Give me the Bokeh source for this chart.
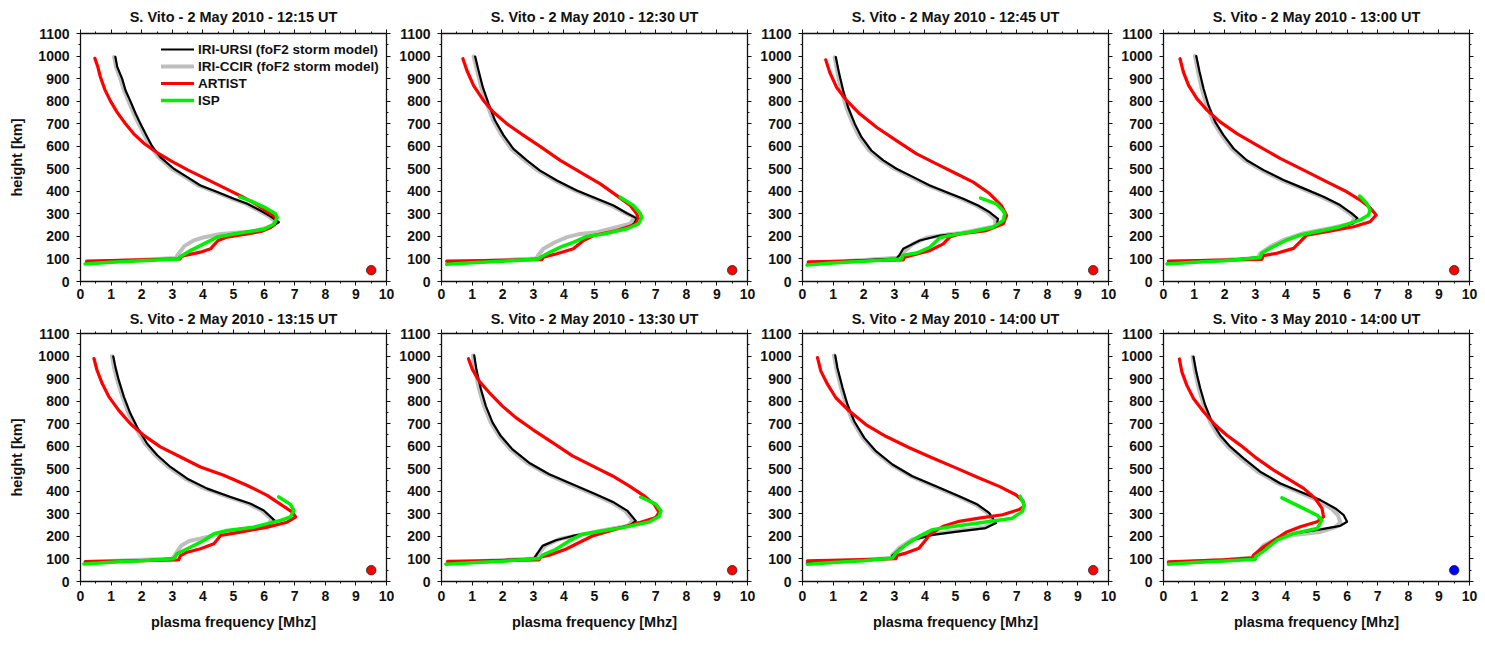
from bokeh.plotting import figure
from bokeh.layouts import gridplot
from bokeh.models import LinearAxis, Range1d, SingleIntervalTicker, Legend, LegendItem
from bokeh.embed import file_html
from bokeh.resources import INLINE

FONT = "Liberation Sans"

titles = [
    "S. Vito - 2 May 2010 - 12:15 UT", "S. Vito - 2 May 2010 - 12:30 UT",
    "S. Vito - 2 May 2010 - 12:45 UT", "S. Vito - 2 May 2010 - 13:00 UT",
    "S. Vito - 2 May 2010 - 13:15 UT", "S. Vito - 2 May 2010 - 13:30 UT",
    "S. Vito - 2 May 2010 - 14:00 UT", "S. Vito - 3 May 2010 - 14:00 UT",
]
series_names = ["IRI-URSI (foF2 storm model)", "IRI-CCIR (foF2 storm model)", "ARTIST", "ISP"]
series_colors = ["#000000", "#bebebe", "#ff0000", "#00ee00"]
marker_freq = [9.5, 9.5, 9.5, 9.5, 9.5, 9.5, 9.5, 9.5]
marker_height = [50, 50, 50, 50, 50, 50, 50, 50]
marker_colors = ["#ff0000"] * 7 + ["#0000ff"]

# (plasma frequency [MHz], height [km]) pairs read from the profiles
ursi_1215 = [(1.14, 996), (1.2, 952), (1.36, 900), (1.47, 848), (1.63, 800), (1.8, 745), (1.96, 700),
             (2.18, 641), (2.34, 600), (2.61, 552), (3.05, 500), (3.49, 463), (3.92, 426), (4.47, 397),
             (5.01, 367), (5.45, 345), (5.88, 315), (6.21, 289), (6.48, 263), (6.32, 250), (6.0, 232),
             (5.01, 211), (4.47, 197), (4.03, 167), (3.59, 137), (3.27, 111), (3.2, 101), (2.0, 93),
             (1.0, 87), (0.2, 82)]
ccir_1215 = [(1.1, 996), (1.16, 952), (1.3, 900), (1.42, 848), (1.57, 800), (1.74, 745), (1.9, 700),
             (2.12, 641), (2.28, 600), (2.55, 552), (2.98, 500), (3.42, 463), (3.85, 426), (4.4, 397),
             (4.95, 367), (5.4, 345), (5.82, 315), (6.15, 289), (6.35, 268), (6.32, 248), (5.66, 223),
             (4.58, 211), (4.0, 195), (3.7, 182), (3.4, 158), (3.16, 115), (3.12, 104), (2.0, 96),
             (1.0, 90), (0.2, 85)]
artist_1215 = [(0.47, 990), (0.57, 950), (0.65, 907), (0.8, 850), (0.98, 800), (1.2, 750), (1.47, 700),
               (1.74, 655), (2.1, 610), (2.5, 572), (3.0, 532), (3.5, 495), (4.1, 455), (4.7, 415),
               (5.3, 375), (5.77, 340), (6.1, 310), (6.32, 290), (6.4, 275), (6.35, 255), (6.2, 238),
               (5.9, 222), (5.45, 211), (4.79, 197), (4.5, 182), (4.35, 160), (4.25, 145), (3.92, 130),
               (3.38, 115), (3.28, 108), (3.25, 100), (2.0, 96), (0.2, 90)]
isp_1215 = [(5.2, 375), (5.6, 355), (6.0, 330), (6.25, 310), (6.37, 300), (6.43, 285), (6.32, 255),
            (6.0, 232), (5.01, 211), (4.47, 197), (4.03, 167), (3.59, 137), (3.27, 111), (3.2, 100),
            (2.0, 92), (1.0, 85), (0.15, 78)]

ursi_1230 = [(1.1, 998), (1.21, 936), (1.35, 862), (1.54, 788), (1.75, 714), (2.03, 648), (2.35, 588),
             (2.79, 537), (3.22, 492), (3.77, 448), (4.42, 404), (5.08, 367), (5.62, 337), (6.06, 303),
             (6.38, 280), (6.3, 258), (6.06, 234), (5.3, 211), (4.75, 200), (4.31, 174), (3.88, 152),
             (3.55, 130), (3.28, 111), (3.17, 102), (2.0, 93), (1.0, 87), (0.2, 82)]
ccir_1230 = [(1.05, 998), (1.16, 936), (1.3, 862), (1.48, 788), (1.69, 714), (1.97, 648), (2.28, 588),
             (2.72, 537), (3.15, 492), (3.7, 448), (4.35, 404), (5.0, 367), (5.55, 337), (6.0, 303),
             (6.3, 285), (6.17, 256), (5.08, 219), (4.53, 211), (4.1, 197), (3.71, 174), (3.33, 145),
             (3.15, 115), (3.1, 102), (2.0, 95), (1.0, 89), (0.2, 84)]
artist_1230 = [(0.7, 988), (0.83, 936), (1.05, 869), (1.37, 803), (1.7, 751), (2.14, 699), (2.68, 648),
               (3.22, 599), (3.88, 537), (4.53, 485), (5.19, 433), (5.73, 381), (6.17, 337), (6.38, 300),
               (6.44, 278), (6.33, 253), (5.73, 226), (4.97, 204), (4.64, 182), (4.31, 145), (3.77, 123),
               (3.33, 108), (3.28, 97), (2.0, 94), (0.17, 90)]
isp_1230 = [(5.84, 374), (6.27, 337), (6.48, 305), (6.55, 285), (6.44, 256), (6.06, 234), (5.3, 211),
            (4.75, 200), (4.31, 174), (3.88, 152), (3.55, 130), (3.28, 111), (3.17, 100), (2.0, 90),
            (1.0, 83), (0.17, 76)]

ursi_1245 = [(1.09, 995), (1.2, 921), (1.33, 847), (1.49, 773), (1.71, 699), (1.93, 640), (2.25, 581),
             (2.64, 537), (3.07, 500), (3.62, 463), (4.16, 426), (4.71, 396), (5.25, 367), (5.74, 337),
             (6.12, 307), (6.39, 278), (6.34, 245), (5.58, 219), (4.49, 204), (3.83, 182), (3.29, 145),
             (3.16, 115), (3.07, 102), (2.0, 95), (1.0, 88), (0.19, 82)]
ccir_1245 = [(1.05, 995), (1.15, 921), (1.27, 847), (1.43, 773), (1.65, 699), (1.86, 640), (2.18, 581),
             (2.57, 537), (3.0, 500), (3.55, 463), (4.09, 426), (4.64, 396), (5.18, 367), (5.67, 337),
             (6.05, 307), (6.3, 275), (6.3, 245), (5.2, 215), (4.7, 208), (4.05, 194), (3.62, 167),
             (3.24, 123), (3.1, 105), (2.0, 95), (1.0, 88), (0.19, 82)]
artist_1245 = [(0.76, 983), (0.89, 928), (1.11, 862), (1.44, 803), (1.87, 744), (2.42, 684), (3.07, 625),
               (3.73, 566), (4.38, 522), (5.03, 478), (5.58, 441), (6.12, 389), (6.5, 337), (6.67, 293),
               (6.56, 256), (6.01, 226), (5.14, 211), (4.81, 197), (4.6, 167), (4.16, 137), (3.62, 118),
               (3.34, 108), (3.29, 96), (2.0, 92), (0.19, 87)]
isp_1245 = [(5.82, 370), (6.34, 344), (6.55, 315), (6.61, 300), (6.56, 271), (6.23, 241), (5.58, 222),
            (4.81, 204), (4.49, 194), (4.16, 152), (3.73, 126), (3.29, 117), (3.24, 100), (2.0, 90),
            (1.0, 82), (0.15, 73)]

ursi_1300 = [(1.07, 1000), (1.18, 929), (1.31, 855), (1.47, 782), (1.69, 708), (1.96, 649), (2.29, 590),
             (2.72, 538), (3.27, 494), (3.92, 450), (4.58, 413), (5.23, 376), (5.77, 339), (6.15, 302),
             (6.34, 280), (6.2, 258), (5.77, 243), (5.12, 224), (4.47, 206), (4.03, 184), (3.59, 155),
             (3.21, 125), (3.16, 108), (2.0, 94), (1.0, 87), (0.15, 80)]
ccir_1300 = [(1.03, 1000), (1.13, 929), (1.25, 855), (1.41, 782), (1.63, 708), (1.9, 649), (2.22, 590),
             (2.65, 538), (3.2, 494), (3.85, 450), (4.5, 413), (5.15, 376), (5.7, 339), (6.08, 302),
             (6.25, 283), (6.15, 258), (5.45, 236), (4.58, 214), (3.92, 184), (3.49, 155), (3.16, 125),
             (3.1, 111), (3.05, 103), (2.0, 96), (1.0, 89), (0.16, 83)]
artist_1300 = [(0.54, 988), (0.65, 929), (0.82, 870), (1.09, 811), (1.42, 760), (1.85, 708), (2.4, 656),
               (3.05, 605), (3.81, 546), (4.58, 494), (5.34, 442), (5.99, 398), (6.43, 361), (6.75, 327),
               (6.95, 295), (6.75, 265), (6.21, 243), (5.34, 221), (4.68, 206), (4.52, 184), (4.25, 147),
               (3.7, 125), (3.27, 115), (3.21, 98), (2.0, 95), (0.16, 91)]
isp_1300 = [(6.41, 379), (6.64, 347), (6.75, 317), (6.7, 295), (6.43, 273), (5.77, 243), (5.12, 224),
            (4.47, 206), (4.03, 184), (3.59, 155), (3.21, 125), (3.16, 106), (2.0, 92), (1.0, 85),
            (0.11, 78)]

ursi_1315 = [(1.07, 999), (1.14, 952), (1.25, 893), (1.42, 819), (1.63, 745), (1.85, 685), (2.18, 611),
             (2.51, 560), (2.94, 508), (3.49, 456), (4.14, 412), (4.9, 375), (5.56, 345), (5.99, 315),
             (6.34, 271), (6.2, 255), (5.66, 241), (4.79, 226), (4.36, 212), (4.03, 182), (3.59, 152),
             (3.16, 123), (3.05, 103), (2.0, 93), (1.0, 87), (0.15, 80)]
ccir_1315 = [(1.03, 999), (1.09, 952), (1.2, 893), (1.37, 819), (1.57, 745), (1.79, 685), (2.11, 611),
             (2.44, 560), (2.87, 508), (3.42, 456), (4.06, 412), (4.82, 375), (5.48, 345), (5.92, 315),
             (6.25, 275), (6.05, 241), (5.23, 226), (4.58, 212), (3.9, 190), (3.55, 180), (3.3, 160),
             (3.1, 120), (3.0, 101), (2.0, 96), (1.0, 91), (0.16, 86)]
artist_1315 = [(0.44, 989), (0.54, 937), (0.71, 878), (0.93, 819), (1.25, 759), (1.63, 700), (2.07, 648),
               (2.61, 597), (3.27, 552), (3.92, 508), (4.68, 471), (5.45, 426), (6.1, 382), (6.59, 338),
               (6.92, 308), (7.03, 286), (6.75, 263), (6.1, 241), (5.23, 219), (4.58, 204), (4.36, 167),
               (3.92, 145), (3.49, 130), (3.27, 115), (3.21, 96), (2.0, 93), (0.16, 88)]
isp_1315 = [(6.48, 375), (6.86, 342), (6.97, 315), (6.86, 286), (6.54, 271), (5.66, 241), (4.79, 226),
            (4.36, 212), (4.03, 182), (3.59, 152), (3.16, 123), (3.05, 101), (2.0, 92), (1.0, 85),
            (0.11, 78)]

ursi_1330 = [(1.07, 1003), (1.14, 941), (1.29, 852), (1.45, 778), (1.67, 705), (1.94, 645), (2.32, 586),
             (2.86, 527), (3.52, 476), (4.28, 431), (5.04, 387), (5.64, 350), (6.08, 313), (6.35, 269),
             (6.13, 247), (5.26, 225), (4.28, 202), (3.74, 183), (3.3, 158), (3.08, 114), (3.03, 102),
             (2.0, 95), (1.0, 89), (0.2, 84)]
ccir_1330 = [(1.03, 1003), (1.09, 941), (1.23, 852), (1.39, 778), (1.61, 705), (1.88, 645), (2.25, 586),
             (2.79, 527), (3.45, 476), (4.2, 431), (4.96, 387), (5.57, 350), (6.0, 313), (6.25, 272),
             (6.1, 247), (5.2, 225), (4.5, 205), (3.9, 190), (3.4, 160), (3.1, 115), (3.03, 102),
             (2.0, 95), (1.0, 89), (0.2, 84)]
artist_1330 = [(0.88, 988), (1.01, 941), (1.23, 889), (1.56, 838), (1.99, 778), (2.43, 727), (2.97, 675),
               (3.63, 616), (4.28, 557), (4.93, 513), (5.59, 468), (6.13, 424), (6.62, 380), (6.95, 343),
               (7.11, 306), (7.0, 284), (6.46, 261), (5.7, 232), (4.93, 202), (4.5, 173), (4.06, 143),
               (3.52, 117), (3.25, 109), (3.19, 96), (2.0, 93), (0.2, 89)]
isp_1330 = [(6.51, 375), (7.0, 343), (7.17, 313), (7.11, 288), (6.79, 264), (5.92, 239), (5.04, 220),
            (4.61, 210), (4.17, 180), (3.74, 143), (3.3, 117), (3.19, 102), (2.0, 90), (1.0, 83),
            (0.14, 77)]

ursi_1400 = [(1.07, 1003), (1.14, 948), (1.31, 859), (1.47, 785), (1.69, 711), (2.02, 637), (2.4, 578),
             (2.94, 519), (3.59, 467), (4.36, 422), (5.12, 378), (5.72, 341), (6.1, 304), (6.32, 259),
             (5.99, 237), (5.12, 222), (4.25, 207), (3.65, 185), (3.21, 148), (2.94, 116), (2.92, 104),
             (2.0, 96), (1.0, 89), (0.16, 83)]
ccir_1400 = [(1.03, 1003), (1.1, 948), (1.26, 859), (1.42, 785), (1.64, 711), (1.97, 637), (2.35, 578),
             (2.89, 519), (3.54, 467), (4.3, 422), (5.06, 378), (5.66, 341), (6.04, 304), (6.25, 262),
             (5.94, 240), (5.05, 225), (4.2, 210), (3.6, 188), (3.17, 150), (2.92, 116), (2.92, 104),
             (2.0, 96), (1.0, 89), (0.16, 83)]
artist_1400 = [(0.49, 993), (0.6, 933), (0.82, 874), (1.09, 815), (1.53, 756), (2.07, 696), (2.72, 644),
               (3.49, 593), (4.25, 548), (5.01, 504), (5.77, 459), (6.43, 422), (6.97, 385), (7.21, 356),
               (7.24, 333), (7.08, 319), (6.54, 296), (5.77, 281), (5.12, 267), (4.58, 244), (4.14, 207),
               (4.08, 193), (3.81, 148), (3.38, 126), (3.1, 116), (3.05, 101), (2.0, 97), (0.16, 92)]
isp_1400 = [(7.11, 378), (7.24, 341), (7.19, 311), (6.86, 281), (5.99, 264), (4.9, 244), (4.25, 230),
            (3.81, 200), (3.38, 163), (3.05, 126), (2.94, 104), (2.0, 92), (1.0, 84), (0.16, 77)]

ursi_3may = [(0.98, 997), (1.07, 930), (1.2, 857), (1.36, 783), (1.58, 709), (1.85, 649), (2.18, 598),
             (2.62, 546), (3.16, 487), (3.82, 435), (4.47, 398), (5.13, 361), (5.62, 324), (5.89, 294),
             (6.0, 265), (5.78, 247), (5.13, 231), (4.25, 213), (3.71, 191), (3.38, 161), (3.11, 124),
             (3.0, 105), (2.0, 96), (1.0, 89), (0.22, 83)]
ccir_3may = [(0.95, 997), (1.03, 930), (1.15, 857), (1.31, 783), (1.52, 709), (1.78, 649), (2.1, 598),
             (2.54, 546), (3.08, 487), (3.74, 435), (4.38, 398), (5.02, 361), (5.48, 324), (5.7, 294),
             (5.78, 262), (5.6, 240), (5.13, 220), (4.25, 206), (3.71, 191), (3.27, 161), (3.0, 117),
             (2.95, 105), (2.0, 96), (1.0, 89), (0.22, 83)]
artist_3may = [(0.52, 987), (0.6, 930), (0.76, 871), (0.98, 812), (1.31, 753), (1.69, 694), (2.07, 649),
               (2.51, 605), (3.05, 546), (3.6, 494), (4.14, 450), (4.58, 413), (4.96, 368), (5.18, 324),
               (5.23, 287), (5.02, 265), (4.47, 243), (4.03, 220), (3.71, 191), (3.27, 154), (2.94, 117),
               (2.9, 105), (2.0, 96), (0.16, 87)]
isp_3may = [(3.87, 371), (4.47, 331), (5.02, 294), (5.18, 272), (5.02, 235), (4.25, 213), (3.71, 183),
            (3.27, 135), (3.0, 109), (3.0, 99), (2.0, 91), (1.0, 84), (0.16, 77)]

ursi_all = [ursi_1215, ursi_1230, ursi_1245, ursi_1300, ursi_1315, ursi_1330, ursi_1400, ursi_3may]
ccir_all = [ccir_1215, ccir_1230, ccir_1245, ccir_1300, ccir_1315, ccir_1330, ccir_1400, ccir_3may]
artist_all = [artist_1215, artist_1230, artist_1245, artist_1300, artist_1315, artist_1330, artist_1400, artist_3may]
isp_all = [isp_1215, isp_1230, isp_1245, isp_1300, isp_1315, isp_1330, isp_1400, isp_3may]

FRAME_W, FRAME_H = 306, 248


def style_axis(ax, labels):
    ax.axis_line_color = "#111111"
    ax.axis_line_width = 1.3
    ax.major_tick_line_color = "#111111"
    ax.minor_tick_line_color = "#111111"
    ax.major_tick_in = 0
    ax.major_tick_out = 4
    ax.minor_tick_in = 0
    ax.minor_tick_out = 2
    ax.major_label_text_font = FONT
    ax.major_label_text_font_style = "bold"
    ax.major_label_text_color = "#111111"
    if labels:
        ax.major_label_text_font_size = "14px"
    else:
        ax.major_label_text_font_size = "0px"
        ax.major_label_standoff = 0
    ax.axis_label_text_font = FONT
    ax.axis_label_text_font_style = "bold"
    ax.axis_label_text_font_size = "14.5px"
    ax.axis_label_text_color = "#111111"


def xy(pts):
    return [a for a, b in pts], [b for a, b in pts]


figs = []
for i in range(8):
    row, col = divmod(i, 4)
    p = figure(frame_width=FRAME_W, frame_height=FRAME_H,
               x_range=Range1d(0, 10), y_range=Range1d(0, 1100),
               x_axis_type=None, y_axis_type=None,
               output_backend="svg", toolbar_location=None,
               min_border_left=80 if col == 0 else 43, min_border_right=10,
               min_border_top=33 if row == 0 else 29,
               min_border_bottom=23 if row == 0 else 50)
    p.outline_line_color = None
    p.background_fill_color = "white"
    p.title.text = titles[i]
    p.title.align = "center"
    p.title.text_font = FONT
    p.title.text_font_style = "bold"
    p.title.text_font_size = "14.5px"
    p.title.text_color = "#111111"
    p.title.standoff = 10 if row == 0 else 6

    for loc in ("below", "above"):
        ax = LinearAxis(ticker=SingleIntervalTicker(interval=1, num_minor_ticks=2))
        style_axis(ax, loc == "below")
        if loc == "below":
            ax.major_label_standoff = 3 if row == 0 else 5
            if row == 1:
                ax.axis_label = "plasma frequency [Mhz]"
                ax.axis_label_standoff = 10
        p.add_layout(ax, loc)
    for loc in ("left", "right"):
        ax = LinearAxis(ticker=SingleIntervalTicker(interval=100, num_minor_ticks=2))
        style_axis(ax, loc == "left")
        if loc == "left":
            ax.major_label_standoff = 7
            if col == 0:
                ax.axis_label = "height [km]"
                ax.axis_label_standoff = 10
        p.add_layout(ax, loc)

    fx, hy = xy(ccir_all[i])
    r_ccir = p.line(fx, hy, line_color=series_colors[1], line_width=4, line_join="round", line_cap="round")
    fx, hy = xy(ursi_all[i])
    r_ursi = p.line(fx, hy, line_color=series_colors[0], line_width=2.2, line_join="round", line_cap="round")
    fx, hy = xy(artist_all[i])
    r_art = p.line(fx, hy, line_color=series_colors[2], line_width=3.2, line_join="round", line_cap="round")
    fx, hy = xy(isp_all[i])
    r_isp = p.line(fx, hy, line_color=series_colors[3], line_width=3.5, line_join="round", line_cap="round")

    p.scatter([marker_freq[i]], [marker_height[i]], size=9.5, fill_color=marker_colors[i],
              line_color="#222222", line_width=0.8)

    if i == 0:
        legend = Legend(items=[LegendItem(label=series_names[0], renderers=[r_ursi]),
                               LegendItem(label=series_names[1], renderers=[r_ccir]),
                               LegendItem(label=series_names[2], renderers=[r_art]),
                               LegendItem(label=series_names[3], renderers=[r_isp])],
                        location=(81, 173), background_fill_alpha=0, border_line_color=None,
                        padding=0, margin=0, spacing=1, glyph_width=33, glyph_height=16,
                        label_height=16, label_standoff=4, label_text_font=FONT,
                        label_text_font_size="13.5px", label_text_font_style="bold",
                        label_text_color="#111111")
        p.add_layout(legend)
    figs.append(p)

grid = gridplot(figs, ncols=4, toolbar_location=None)
open("out.html", "w").write(file_html(grid, INLINE))
